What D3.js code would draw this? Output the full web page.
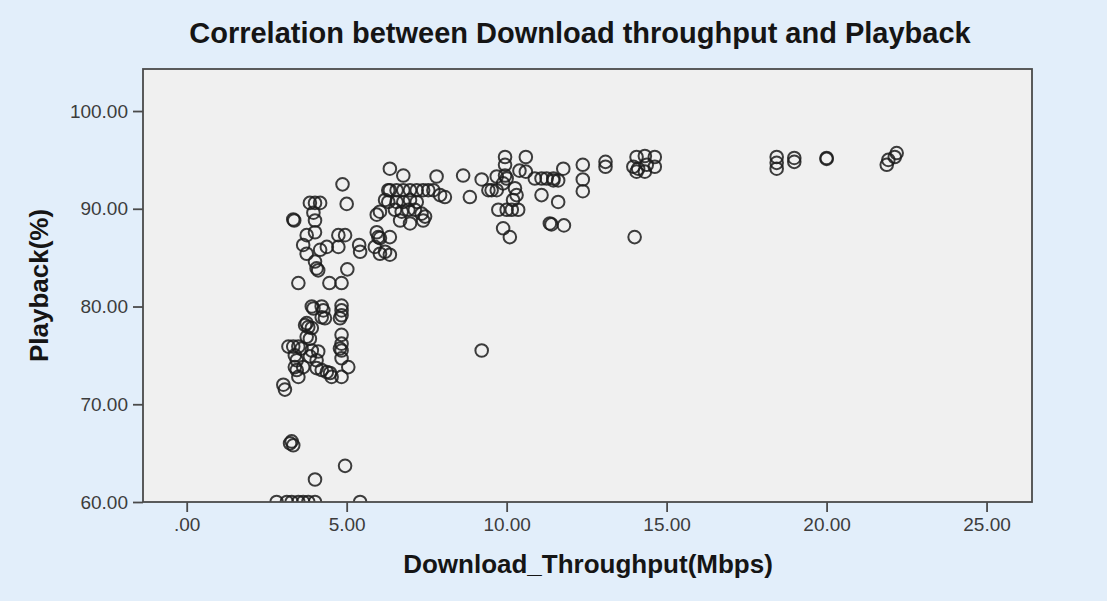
<!DOCTYPE html>
<html>
<head>
<meta charset="utf-8">
<script src="https://cdn.jsdelivr.net/npm/d3@7"></script>
<style>
  body { margin: 0; background: #e2eefa; }
  svg { display: block; font-family: "Liberation Sans", Arial, sans-serif; }
</style>
</head>
<body>
<svg></svg>
<script>
// Download throughput (Mbps) and playback (%)
const throughput = [
  // bottom row, at 60
  2.81, 3.13, 3.28, 3.49, 3.64, 3.80, 4.01, 5.42,
  // low outliers
  3.23, 3.28, 3.33, 4.01, 4.95, 3.02, 3.07,
  // 72 - 80 cluster
  3.96, 3.91, 4.22, 4.27, 4.22, 4.32, 4.84, 4.84, 4.84, 4.79,
  3.75, 3.80, 3.70, 3.91, 3.75, 3.85, 4.84, 4.84, 4.84, 4.79,
  3.18, 3.33, 3.49, 3.59, 3.38, 3.44, 3.38, 3.44, 3.49, 3.91,
  4.11, 3.85, 4.06, 4.84, 4.06, 4.22, 4.38, 4.48, 4.53, 4.84,
  5.05, 3.64,
  // 82 - 93 at low throughput
  3.49, 4.46, 4.84, 4.01, 4.06, 4.11, 5.02, 3.64, 3.75, 4.17,
  4.38, 4.74, 4.95, 4.74, 5.39, 5.42, 3.96, 4.01, 4.01, 3.75,
  3.33, 3.36, 3.85, 4.01, 4.17, 4.87, 5.00,
  // 6 - 8 Mbps
  5.94, 6.04, 6.35, 6.30, 6.30, 6.20, 6.56, 5.94, 5.99, 6.04,
  6.35, 5.88, 6.04, 6.20, 6.35, 6.77, 7.81, 6.35, 6.56, 6.77,
  6.98, 7.19, 7.39, 7.55, 7.71, 7.92, 8.07, 6.77, 6.98, 7.19,
  6.51, 6.72, 6.93, 7.13, 7.34, 7.45, 6.67, 6.98, 7.39,
  // 8.5 - 12.5 Mbps
  8.64, 8.85, 9.22, 9.43, 9.53, 9.95, 9.95, 9.95, 10.00, 9.89,
  9.69, 9.69, 10.60, 10.40, 10.60, 10.26, 10.31, 10.20, 9.74, 10.00,
  10.16, 10.36, 9.89, 10.10, 10.88, 11.09, 11.25, 11.46, 11.09, 11.61,
  11.35, 11.46, 11.61, 11.77, 11.40, 11.79, 12.38, 12.38, 12.38, 9.22,
  // 13 - 22 Mbps
  13.09, 13.09, 14.00, 14.06, 14.32, 14.63, 13.96, 14.11, 14.38, 14.63,
  14.06, 14.32, 18.44, 18.44, 18.44, 18.99, 18.99, 20.00, 20.00, 21.93,
  21.88, 22.13, 22.19
];
const playback = [
  60.0, 60.0, 60.0, 60.0, 60.0, 60.0, 60.0, 60.0,
  66.0, 66.2, 65.8, 62.3, 63.7, 72.0, 71.5,
  79.8, 80.0, 80.0, 79.6, 78.9, 78.8, 80.1, 79.6, 79.1, 78.8,
  78.3, 77.9, 78.1, 77.8, 76.9, 76.7, 77.1, 76.2, 75.5, 75.7,
  75.9, 75.9, 75.9, 75.7, 75.0, 74.5, 73.8, 73.5, 72.8, 75.5,
  75.4, 74.9, 74.5, 74.7, 73.7, 73.5, 73.3, 73.2, 72.8, 72.8,
  73.8, 73.8,
  82.4, 82.4, 82.4, 84.6, 83.9, 83.7, 83.8, 86.3, 85.4, 85.8,
  86.1, 87.3, 87.3, 86.1, 86.3, 85.6, 89.6, 88.8, 87.6, 87.3,
  88.9, 88.8, 90.6, 90.6, 90.6, 92.5, 90.5,
  89.4, 89.7, 94.1, 91.9, 90.7, 90.9, 90.7, 87.6, 87.1, 87.0,
  87.1, 86.1, 85.4, 85.6, 85.3, 93.4, 93.3, 91.9, 91.9, 91.9,
  91.9, 91.9, 91.9, 91.9, 91.9, 91.4, 91.2, 90.7, 90.9, 90.7,
  89.9, 89.7, 89.9, 89.9, 89.5, 89.2, 88.8, 88.5, 88.8,
  93.4, 91.2, 93.0, 91.9, 91.9, 95.3, 94.5, 93.4, 93.1, 92.6,
  93.3, 91.9, 95.3, 93.9, 93.8, 92.1, 91.4, 90.9, 89.9, 89.9,
  89.9, 89.9, 88.0, 87.1, 93.1, 93.1, 93.1, 93.1, 91.4, 90.7,
  88.5, 92.9, 92.9, 94.1, 88.4, 88.3, 94.5, 93.0, 91.8, 75.5,
  94.8, 94.3, 87.1, 95.3, 95.4, 95.3, 94.3, 94.1, 94.5, 94.3,
  93.8, 93.8, 95.3, 94.7, 94.1, 95.2, 94.8, 95.1, 95.2, 95.0,
  94.5, 95.3, 95.7
];
const xTicks = [0, 5, 10, 15, 20, 25];
const yTicks = [60, 70, 80, 90, 100];

const points = throughput.map((d, i) => [d, playback[i]]);

const width = 1107;
const height = 601;
const plot = { left: 143, top: 69, right: 1032, bottom: 502 };

const xScale = d3.scaleLinear()
    .domain([-1.366, 26.42])
    .range([plot.left, plot.right]);

const yScale = d3.scaleLinear()
    .domain([60, 104.3])
    .range([plot.bottom, plot.top]);

const fmt = v => d3.format(".2f")(v).replace(/^0\./, ".");

const svg = d3.select("svg")
    .attr("width", width)
    .attr("height", height);

svg.append("rect")
    .attr("width", width)
    .attr("height", height)
    .attr("fill", "#e2eefa");

// plot area
svg.append("rect")
    .attr("x", plot.left)
    .attr("y", plot.top)
    .attr("width", plot.right - plot.left)
    .attr("height", plot.bottom - plot.top)
    .attr("fill", "#f0f0f0");

svg.append("clipPath")
    .attr("id", "clip")
  .append("rect")
    .attr("x", plot.left)
    .attr("y", plot.top)
    .attr("width", plot.right - plot.left)
    .attr("height", plot.bottom - plot.top);

svg.append("g")
    .attr("clip-path", "url(#clip)")
  .selectAll("circle")
  .data(points)
  .enter()
  .append("circle")
    .attr("cx", d => xScale(d[0]))
    .attr("cy", d => yScale(d[1]))
    .attr("r", 6.3)
    .attr("fill", "none")
    .attr("stroke", "#1c1c1c")
    .attr("stroke-opacity", 0.85)
    .attr("stroke-width", 2);

// frame
svg.append("rect")
    .attr("x", plot.left)
    .attr("y", plot.top)
    .attr("width", plot.right - plot.left)
    .attr("height", plot.bottom - plot.top)
    .attr("fill", "none")
    .attr("stroke", "#4a4a4a")
    .attr("stroke-width", 1.8);

// axes
const xAxis = d3.axisBottom(xScale)
    .tickValues(xTicks)
    .tickFormat(fmt)
    .tickSize(10)
    .tickPadding(6);

const yAxis = d3.axisLeft(yScale)
    .tickValues(yTicks)
    .tickFormat(fmt)
    .tickSize(10)
    .tickPadding(5);

const gx = svg.append("g")
    .attr("transform", "translate(0," + plot.bottom + ")")
    .call(xAxis);

const gy = svg.append("g")
    .attr("transform", "translate(" + plot.left + ",0)")
    .call(yAxis);

[gx, gy].forEach(g => {
  g.select(".domain").remove();
  g.selectAll(".tick line").attr("stroke", "#4a4a4a").attr("stroke-width", 1.8);
  g.selectAll(".tick text")
      .attr("fill", "#3c3c3c")
      .style("font-size", "19px")
      .style("font-family", "'Liberation Sans', Arial, sans-serif");
});

// titles
svg.append("text")
    .attr("x", 580)
    .attr("y", 43)
    .attr("text-anchor", "middle")
    .style("font-size", "29px")
    .style("font-weight", "bold")
    .attr("fill", "#151515")
    .text("Correlation between Download throughput and Playback");

svg.append("text")
    .attr("x", 588)
    .attr("y", 573)
    .attr("text-anchor", "middle")
    .style("font-size", "26px")
    .style("font-weight", "bold")
    .attr("fill", "#151515")
    .text("Download_Throughput(Mbps)");

svg.append("text")
    .attr("transform", "translate(48," + (plot.top + plot.bottom) / 2 + ") rotate(-90)")
    .attr("text-anchor", "middle")
    .style("font-size", "26px")
    .style("font-weight", "bold")
    .attr("fill", "#151515")
    .text("Playback(%)");
</script>
</body>
</html>
